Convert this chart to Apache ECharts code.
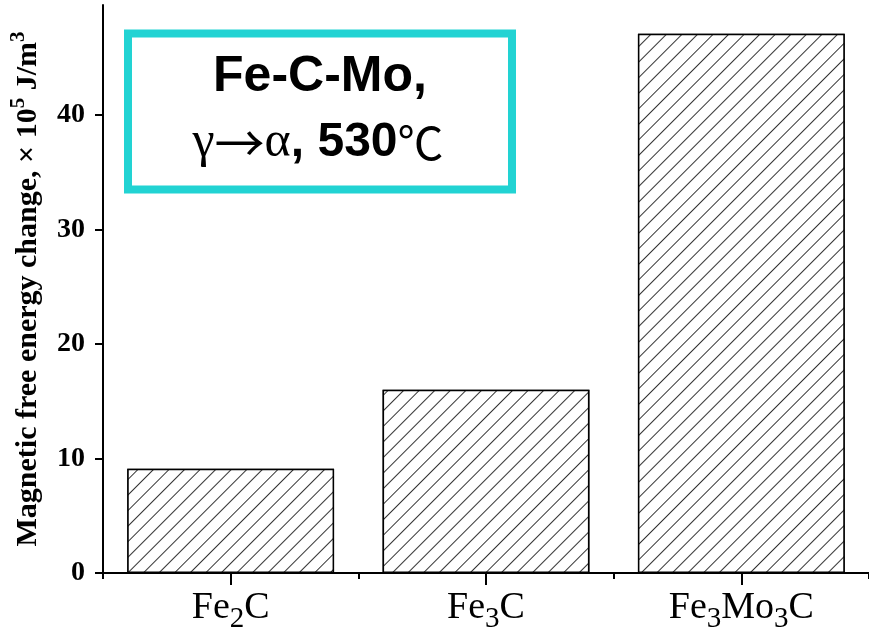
<!DOCTYPE html>
<html>
<head>
<meta charset="utf-8">
<script src="https://cdn.jsdelivr.net/npm/echarts@6/dist/echarts.min.js"></script>
<style>html,body{margin:0;padding:0;background:#fff}#c{width:869px;height:634px}</style>
</head>
<body>
<div id="c"></div>
<script>
const categories = ['Fe2C', 'Fe3C', 'Fe3Mo3C'];
const energyValues = [9.1, 16.0, 47.1];
const yTickValues = [0, 10, 20, 30, 40];
const yAxisName = 'Magnetic free energy change, × 10{sup|5} J/m{sup|3}';

const chart = echarts.init(document.getElementById('c'));
const serif = '"Liberation Serif", "Times New Roman", serif';
const sans = '"Liberation Sans", Arial, sans-serif';

function subFmt(v) {
  return v.split(/(\d)/).filter(s => s.length).map(s => /\d/.test(s) ? '{s|' + s + '}' : '{a|' + s + '}').join('');
}

chart.setOption({
  animation: false,
  backgroundColor: '#fff',
  grid: { left: 101, right: -3, top: 5, bottom: 61 },
  xAxis: [{
    type: 'category',
    data: categories,
    axisLine: { lineStyle: { color: '#000', width: 2 } },
    axisTick: { show: true, alignWithLabel: true, length: 12, lineStyle: { color: '#000', width: 2 } },
    axisLabel: {
      margin: 15,
      formatter: subFmt,
      rich: {
        a: { fontFamily: serif, fontSize: 38, color: '#000', lineHeight: 40 },
        s: { fontFamily: serif, fontSize: 29, color: '#000', lineHeight: 26, padding: [22, 0, 0, 0] }
      }
    }
  }, {
    type: 'category',
    data: categories,
    position: 'bottom',
    axisLine: { show: false },
    axisTick: { show: true, length: 6, lineStyle: { color: '#000', width: 2 } },
    axisLabel: { show: false }
  }],
  yAxis: {
    type: 'value',
    min: 0,
    max: 49.6,
    interval: 10,
    splitLine: { show: false },
    axisLine: { show: true, lineStyle: { color: '#000', width: 2 } },
    axisTick: { show: true, length: 8, customValues: yTickValues, lineStyle: { color: '#000', width: 2 } },
    axisLabel: {
      margin: 18,
      customValues: yTickValues,
      fontFamily: serif, fontWeight: 'bold', fontSize: 28, color: '#000'
    },
    name: yAxisName,
    nameLocation: 'middle',
    nameRotate: 90,
    nameGap: 54,
    nameTextStyle: {
      fontFamily: serif, fontWeight: 'bold', fontSize: 30, color: '#000',
      rich: {
        sup: { fontFamily: serif, fontWeight: 'bold', fontSize: 21, color: '#000', padding: [0, 0, 20, 0] }
      }
    }
  },
  series: [{
    type: 'bar',
    data: energyValues,
    barWidth: '81%',
    itemStyle: {
      color: '#fff',
      borderColor: '#000',
      borderWidth: 1.5,
      decal: {
        symbol: 'rect',
        symbolSize: 1,
        dashArrayX: [1, 0],
        dashArrayY: [1, 10],
        rotation: -Math.PI / 4,
        color: '#333',
        backgroundColor: '#fff'
      }
    }
  }],
  graphic: [
    {
      type: 'rect',
      shape: { x: 128, y: 33.5, width: 384, height: 156 },
      style: { fill: '#fff', stroke: '#22d3d3', lineWidth: 8 },
      z: 10
    },
    {
      type: 'text',
      x: 320, y: 77,
      style: { text: 'Fe-C-Mo,', fontFamily: sans, fontWeight: 'bold', fontSize: 50, fill: '#000', align: 'center', verticalAlign: 'middle' },
      z: 11
    },
    {
      type: 'text',
      x: 318, y: 143,
      style: {
        text: '{g|γ}{r|→}{g|α}{b|, 530}{c|℃}',
        align: 'center', verticalAlign: 'middle',
        rich: {
          g: { fontFamily: serif, fontSize: 50, color: '#000' },
          r: { fontFamily: '"Noto Sans CJK SC", sans-serif', fontSize: 50, color: '#000' },
          b: { fontFamily: sans, fontWeight: 'bold', fontSize: 48, color: '#000' },
          c: { fontFamily: '"Noto Sans CJK SC", sans-serif', fontSize: 46, color: '#000' }
        }
      },
      z: 11
    }
  ]
});
</script>
</body>
</html>
